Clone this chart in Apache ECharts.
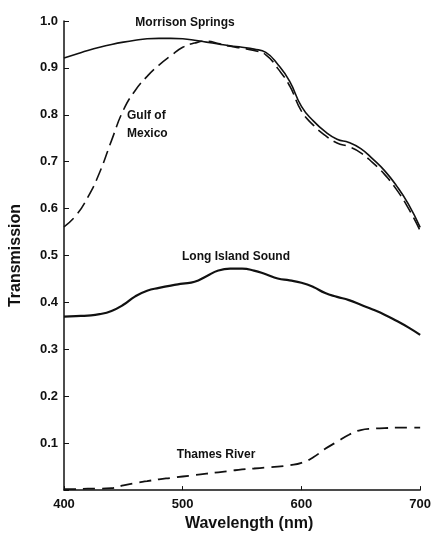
<!DOCTYPE html>
<html>
<head>
<meta charset="utf-8">
<script src="https://cdn.jsdelivr.net/npm/echarts@6/dist/echarts.min.js"></script>
<style>
  html, body { margin: 0; padding: 0; background: #fff; }
  #chart_box { width: 434px; height: 537px; }
</style>
</head>
<body>
<div id="chart_box"></div>
<script>
// wavelength samples (nm)
var wavelengths = [400, 410, 420, 430, 440, 450, 460, 470, 480, 490, 500, 510, 520, 530, 540, 550,
                   560, 570, 580, 590, 600, 610, 620, 630, 640, 650, 660, 670, 680, 690, 700];
// transmission
var morrisonSprings = [0.921, 0.929, 0.937, 0.944, 0.950, 0.955, 0.959, 0.962, 0.963, 0.963, 0.962, 0.959, 0.955, 0.951, 0.947, 0.944,
                       0.940, 0.933, 0.908, 0.872, 0.818, 0.787, 0.764, 0.748, 0.741, 0.728, 0.706, 0.681, 0.649, 0.610, 0.560];
var gulfOfMexico = [0.561, 0.585, 0.624, 0.677, 0.745, 0.810, 0.852, 0.882, 0.906, 0.926, 0.944, 0.953, 0.957, 0.952, 0.946, 0.942,
                    0.937, 0.928, 0.899, 0.862, 0.808, 0.778, 0.756, 0.740, 0.732, 0.719, 0.698, 0.673, 0.641, 0.601, 0.553];
var longIslandSound = [0.370, 0.371, 0.372, 0.375, 0.382, 0.395, 0.413, 0.425, 0.431, 0.436, 0.440, 0.444, 0.456, 0.468, 0.472, 0.472,
                       0.468, 0.460, 0.451, 0.447, 0.442, 0.433, 0.420, 0.412, 0.405, 0.395, 0.385, 0.374, 0.361, 0.347, 0.331];
var thamesRiver = [0.002, 0.002, 0.003, 0.003, 0.004, 0.010, 0.015, 0.019, 0.023, 0.026, 0.029, 0.032, 0.035, 0.038, 0.041, 0.044,
                   0.046, 0.048, 0.050, 0.053, 0.058, 0.070, 0.088, 0.103, 0.118, 0.128, 0.131, 0.132, 0.133, 0.133, 0.133];

var xTicks = [400, 500, 600, 700];
var yTicks = [0.1, 0.2, 0.3, 0.4, 0.5, 0.6, 0.7, 0.8, 0.9, 1.0];

function pairs(ys) {
    return wavelengths.map(function (x, i) { return [x, ys[i]]; });
}

var FONT = '"Liberation Sans", Arial, sans-serif';

var mycharts = echarts.init(document.getElementById('chart_box'));

var optionObj = {
    backgroundColor: '#fff',
    animation: false,
    grid: { left: 64, right: 12, top: 21, bottom: 44, containLabel: false },
    xAxis: {
        type: 'value',
        min: 400, max: 700, interval: 100,
        name: 'Wavelength (nm)',
        nameLocation: 'middle',
        nameGap: 24,
        nameTextStyle: { fontFamily: FONT, fontWeight: 'bold', fontSize: 16, color: '#111', padding: [0, 0, 0, 14] },
        axisLine: { lineStyle: { color: '#111', width: 1.5 } },
        axisTick: { inside: true, length: 4, lineStyle: { color: '#111' } },
        axisLabel: {
            color: '#111', fontFamily: FONT, fontWeight: 'bold', fontSize: 13, margin: 8,
            formatter: function (v) { return xTicks.indexOf(v) >= 0 ? String(v) : ''; }
        },
        splitLine: { show: false }
    },
    yAxis: {
        type: 'value',
        min: 0, max: 1, interval: 0.1,
        name: 'Transmission',
        nameLocation: 'middle',
        nameGap: 40,
        nameTextStyle: { fontFamily: FONT, fontWeight: 'bold', fontSize: 16, color: '#111' },
        axisLine: { show: true, lineStyle: { color: '#111', width: 1.5 } },
        axisTick: { show: true, inside: true, length: 5, lineStyle: { color: '#111' } },
        axisLabel: {
            color: '#111', fontFamily: FONT, fontWeight: 'bold', fontSize: 13, margin: 6,
            formatter: function (v) {
                var r = Math.round(v * 10) / 10;
                return yTicks.indexOf(r) >= 0 ? r.toFixed(1) : '';
            }
        },
        splitLine: { show: false }
    },
    series: [
        {
            name: 'Morrison Springs', type: 'line', smooth: true, showSymbol: false,
            data: pairs(morrisonSprings),
            lineStyle: { color: '#111', width: 1.6 }
        },
        {
            name: 'Gulf of Mexico', type: 'line', smooth: true, showSymbol: false,
            data: pairs(gulfOfMexico),
            lineStyle: { color: '#111', width: 1.6, type: [13, 6] }
        },
        {
            name: 'Long Island Sound', type: 'line', smooth: true, showSymbol: false,
            data: pairs(longIslandSound),
            lineStyle: { color: '#111', width: 2.2 }
        },
        {
            name: 'Thames River', type: 'line', smooth: true, showSymbol: false,
            data: pairs(thamesRiver),
            lineStyle: { color: '#111', width: 1.8, type: [12, 7] }
        }
    ],
    // curve captions
    graphic: [
        { type: 'text', x: 185, y: 23, style: { text: 'Morrison Springs', font: 'bold 12px ' + FONT, fill: '#111', textAlign: 'center', textVerticalAlign: 'middle' } },
        { type: 'text', x: 127, y: 125, style: { text: 'Gulf of\nMexico', font: 'bold 12px ' + FONT, fill: '#111', textAlign: 'left', textVerticalAlign: 'middle', lineHeight: 18 } },
        { type: 'text', x: 236, y: 257, style: { text: 'Long Island Sound', font: 'bold 12px ' + FONT, fill: '#111', textAlign: 'center', textVerticalAlign: 'middle' } },
        { type: 'text', x: 216, y: 455, style: { text: 'Thames River', font: 'bold 12px ' + FONT, fill: '#111', textAlign: 'center', textVerticalAlign: 'middle' } }
    ]
};

mycharts.setOption(optionObj);
window.onresize = function () {
    mycharts.resize();
};
</script>
</body>
</html>
